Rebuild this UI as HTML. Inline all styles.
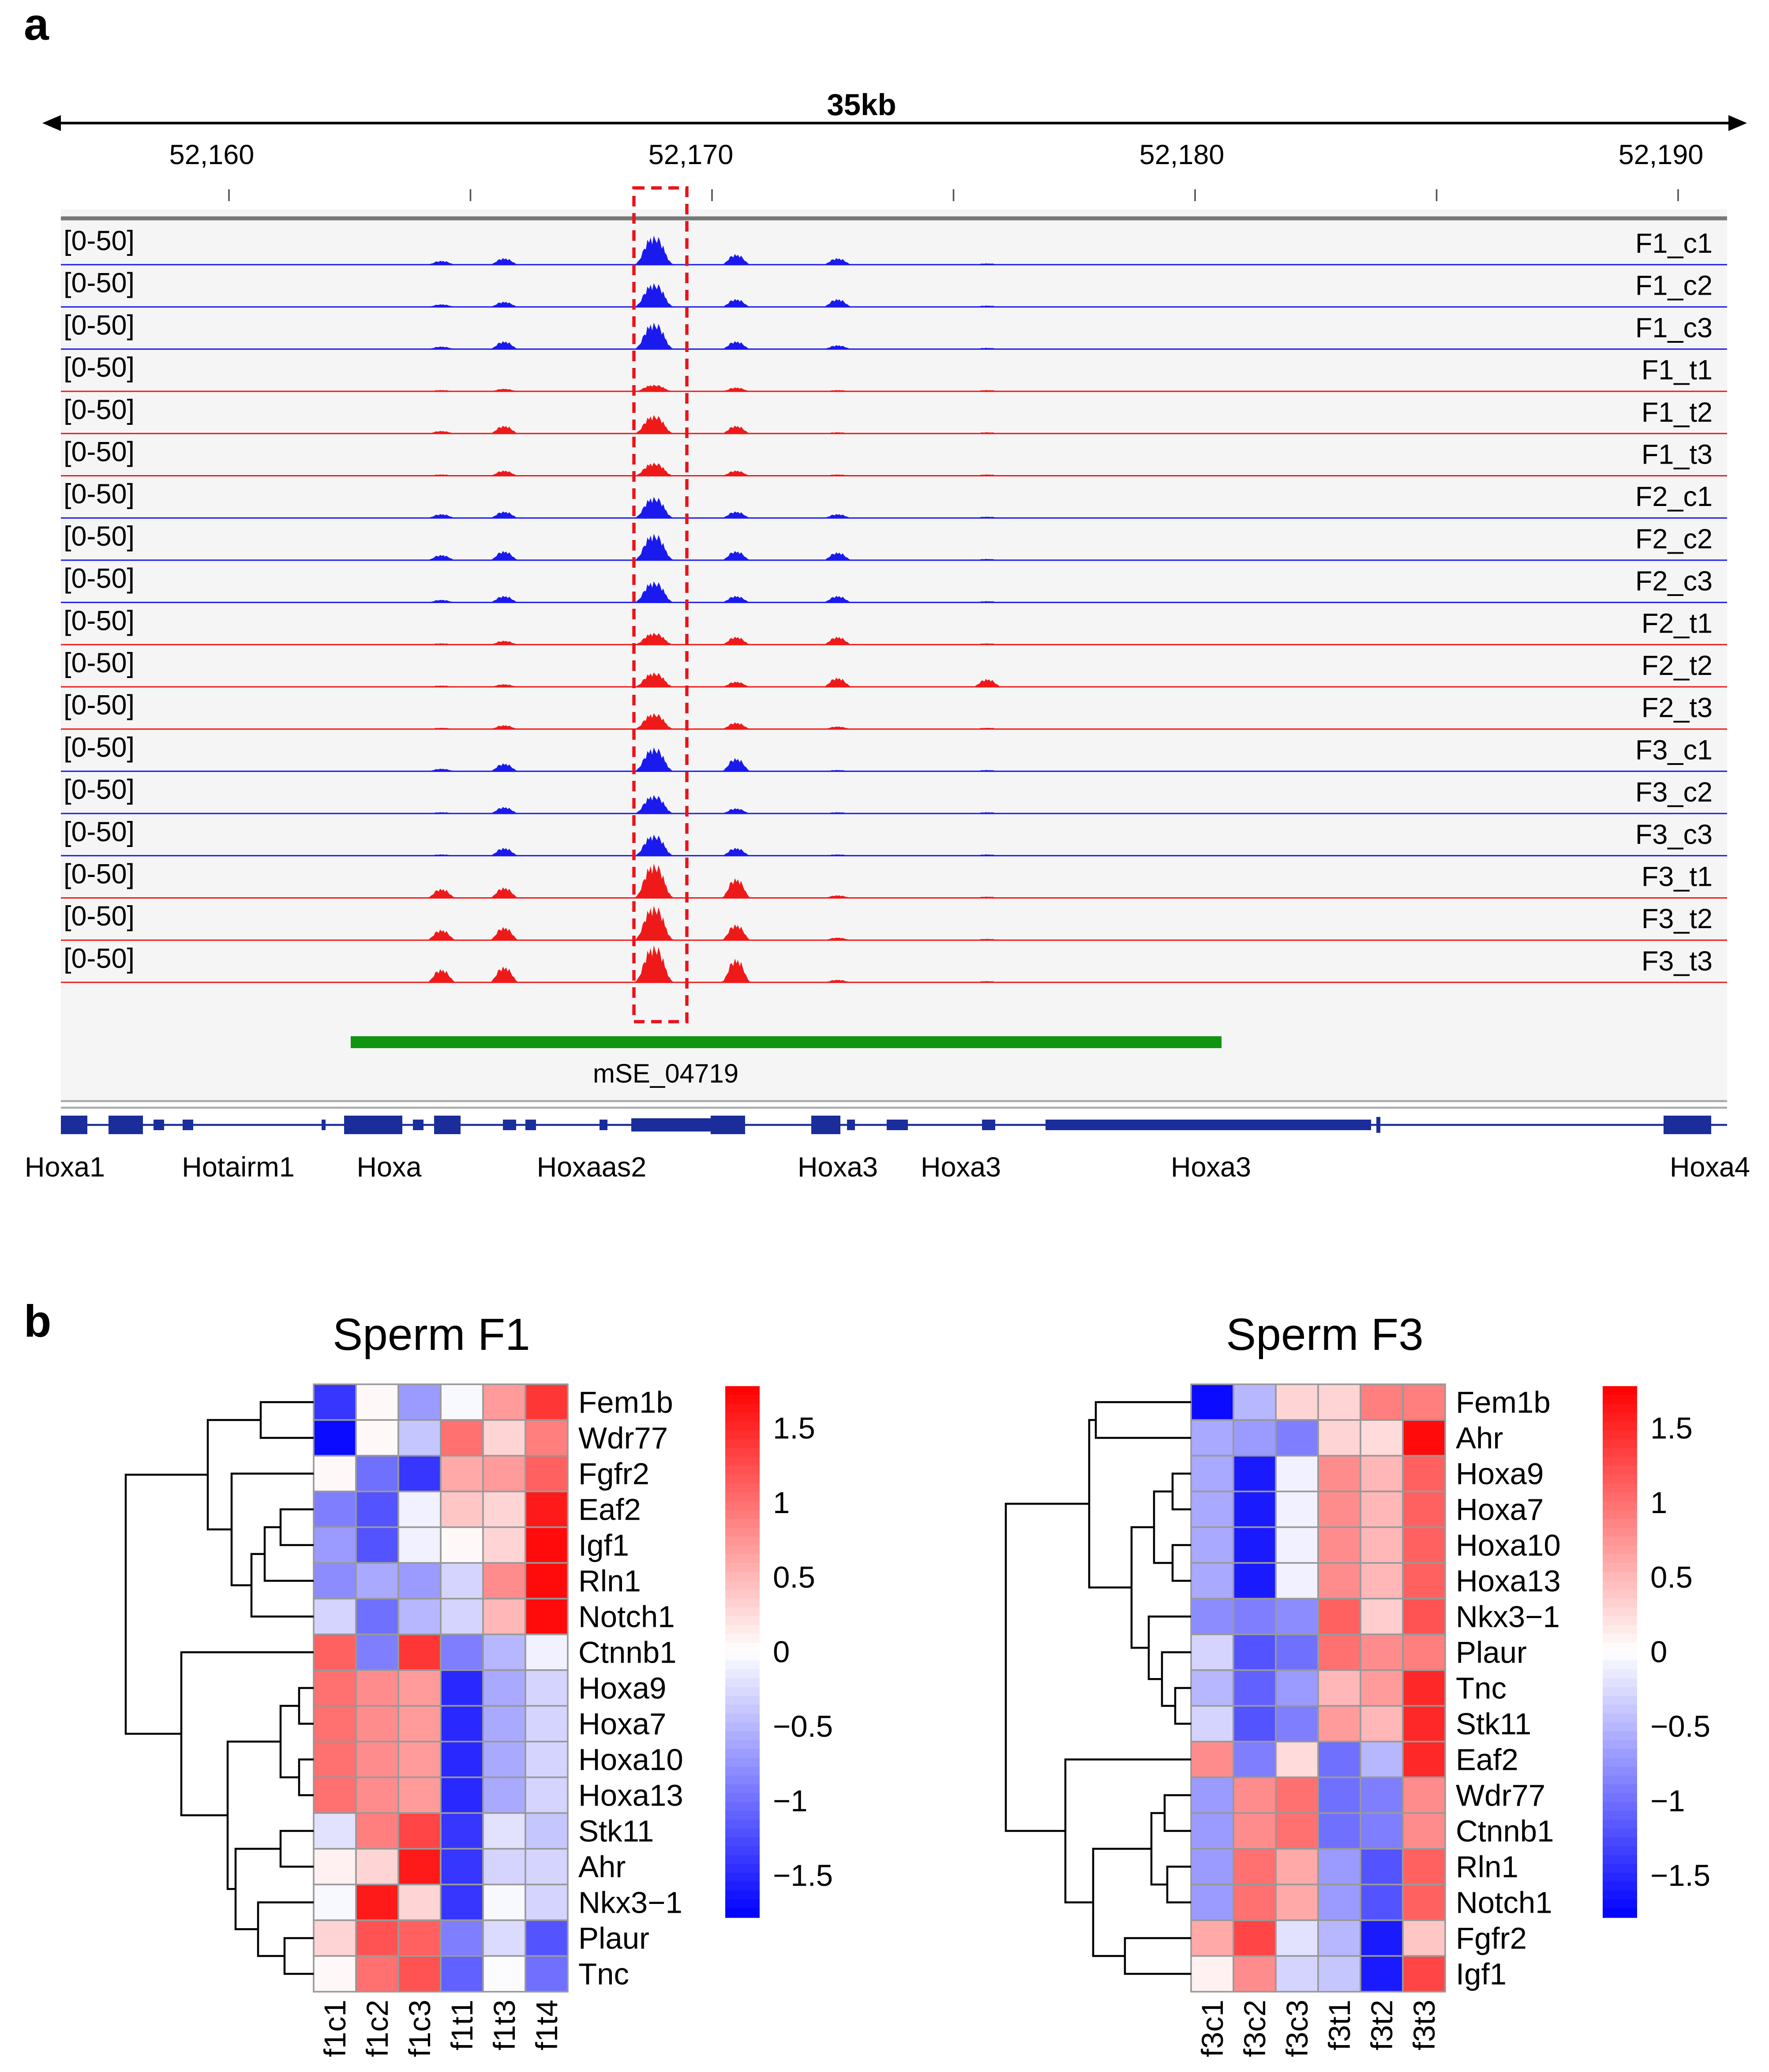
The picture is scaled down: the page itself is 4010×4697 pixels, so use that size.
<!DOCTYPE html>
<html><head><meta charset="utf-8"><style>
html,body{margin:0;padding:0;background:#fff;}
svg{display:block;font-family:"Liberation Sans",Arial,sans-serif;}
</style></head><body>
<svg id="fig" width="4010" height="4697" viewBox="0 0 1336.67 1565.67" xmlns="http://www.w3.org/2000/svg">
<rect width="1336.67" height="1565.67" fill="#fff"/>
<text x="18" y="30" font-size="34" font-weight="bold">a</text>
<text x="18" y="1010" font-size="34" font-weight="bold">b</text>
<g>
<line x1="38" y1="93" x2="1314" y2="93" stroke="#000" stroke-width="2"/>
<polygon points="32,93 46,87 46,99" fill="#000"/>
<polygon points="1320,93 1306,87 1306,99" fill="#000"/>
<text x="651" y="87" font-size="23" font-weight="bold" text-anchor="middle">35kb</text>
</g>
<rect x="46" y="158" width="1259" height="675" fill="#f5f5f5"/>
<line x1="46" y1="165" x2="1305" y2="165" stroke="#777" stroke-width="3"/>
<g id="tracks"></g>
<rect x="479" y="142" width="40" height="630" fill="none" stroke="#e8141c" stroke-width="2.5" stroke-dasharray="8,5"/>
<rect x="265" y="783" width="658" height="9" fill="#119411"/>
<text x="503" y="818" font-size="20" text-anchor="middle">mSE_04719</text>
<line x1="46" y1="832" x2="1305" y2="832" stroke="#aaa" stroke-width="1.5"/>
<line x1="46" y1="837" x2="1305" y2="837" stroke="#aaa" stroke-width="1.5"/>
<g id="genes"></g>
<g id="hm"></g>
</svg>
<script>
const NS='http://www.w3.org/2000/svg';
const svg=document.getElementById('fig');
function mk(tag,attrs,parent){const e=document.createElementNS(NS,tag);for(const k in attrs)e.setAttribute(k,attrs[k]);(parent||svg).appendChild(e);return e;}
function txt(s,attrs,parent){const e=mk('text',attrs,parent);e.textContent=s;return e;}

const tickKb=[52160,52170,52180,52190];
const trackNames=['F1_c1','F1_c2','F1_c3','F1_t1','F1_t2','F1_t3','F2_c1','F2_c2','F2_c3','F2_t1','F2_t2','F2_t3','F3_c1','F3_c2','F3_c3','F3_t1','F3_t2','F3_t3'];
const peakKb=[52164.4,52165.7,52168.8,52170.5,52172.6,52175.7];
const peakHeights=[
[3,5,22,8,5,1],[2,4,18,6,6,1],[2,6,20,6,3,1],[1,2,5,3,1,1],[2,6,14,6,1,1],[1,4,10,4,1,1],
[3,5,16,5,3,1],[4,7,20,7,6,1],[2,5,16,5,5,1],[1,3,9,6,6,1],[1,2,11,4,7,6],[1,3,12,5,2,1],
[2,6,18,10,1,1],[1,5,14,4,1,1],[1,6,16,6,1,1],[7,8,26,15,2,1],[8,10,26,12,2,1],[10,12,28,18,2,1]];
const kx=kb=>173+(kb-52160)*36.5;
const tickLabelX=[160,522,893,1255];
const trk=document.getElementById('tracks');
tickKb.forEach((t,i)=>{
  const e=txt(t.toLocaleString('en-US'),{x:tickLabelX[i],y:124,'font-size':21,'text-anchor':'middle'},trk);
  
  
});
for(let k=52160;k<=52190;k+=5){
  const l=mk('line',{x1:kx(k),x2:kx(k),y1:143,y2:152,stroke:'#555','stroke-width':1.2},trk);
  
  
}
const jag=[1,0.8,0.95,0.7,1,0.85,0.75,1,0.9,0.7];
trackNames.forEach((nm,i)=>{
  const base=200+i*31.9;
  const col=nm.indexOf('_c')>0?'#1a1aee':'#ee1a1a';
  const g=mk('g',{},trk);
  
  
  const bl=mk('line',{x1:46,x2:1305,y1:base,y2:base,stroke:col,'stroke-width':1},g);
  
  
  peakHeights[i].forEach((h,j)=>{
    const cx=kx(peakKb[j]);const w=j==2?17:13;let pts=[];let q=0;
    for(let s=-w;s<=w;s+=1.2){const f=Math.exp(-Math.pow(Math.abs(s)/(w*0.55),3));pts.push((cx+s).toFixed(1)+','+(base-h*f*jag[(q++)%jag.length]).toFixed(1));}
    pts.push((cx+w)+','+base);pts.unshift((cx-w)+','+base);
    const p=mk('polygon',{points:pts.join(' '),fill:col},g);
    
    
  });
  const a=txt('[0-50]',{x:48,y:base-11,'font-size':21},g);
  
  
  const b=txt(nm,{x:1294,y:base-9,'font-size':21,'text-anchor':'end'},g);
  
  
});
const gg=document.getElementById('genes');
mk('line',{x1:46,x2:1305,y1:850,y2:850,stroke:'#1a2d9a','stroke-width':1.5},gg);
const exons=[[46,20,14],[82,26,14],[116,8,8],[138,8,8],[243,3,8],[260,44,14],[312,8,8],[328,20,14],[380,10,8],[397,8,8],[453,6,8],[477,60,10],[537,26,14],[613,22,14],[640,6,8],[670,16,8],[742,10,8],[790,246,8],[1040,3,12],[1257,36,14]];
exons.forEach(e=>{const r=mk('rect',{x:e[0],y:850-e[2]/2,width:e[1],height:e[2],fill:'#1a2d9a'},gg);});
const geneLabels=[['Hoxa1',49],['Hotairm1',180],['Hoxa',294],['Hoxaas2',447],['Hoxa3',633],['Hoxa3',726],['Hoxa3',915],['Hoxa4',1292]];
geneLabels.forEach(g=>{const e=txt(g[0],{x:g[1],y:889,'font-size':21,'text-anchor':'middle'},gg);});

const colsF1=['f1c1','f1c2','f1c3','f1t1','f1t3','f1t4'];
const rowsF1=['Fem1b','Wdr77','Fgfr2','Eaf2','Igf1','Rln1','Notch1','Ctnnb1','Hoxa9','Hoxa7','Hoxa10','Hoxa13','Stk11','Ahr','Nkx3\u22121','Plaur','Tnc'];
const valsF1=[
[-1.4,0.05,-0.7,-0.05,0.7,1.4],[-1.7,0.05,-0.4,1.0,0.3,0.9],[0.05,-1.0,-1.4,0.6,0.7,1.1],
[-0.9,-1.2,-0.1,0.4,0.3,1.6],[-0.7,-1.2,-0.1,0.05,0.3,1.7],[-0.8,-0.6,-0.7,-0.3,0.8,1.7],
[-0.3,-1.0,-0.5,-0.3,0.5,1.7],[1.1,-0.9,1.4,-0.9,-0.5,-0.1],[1.0,0.8,0.7,-1.5,-0.6,-0.3],
[1.0,0.8,0.7,-1.5,-0.6,-0.3],[1.0,0.8,0.7,-1.5,-0.6,-0.3],[1.0,0.8,0.7,-1.5,-0.6,-0.3],
[-0.2,0.9,1.3,-1.4,-0.2,-0.4],[0.1,0.3,1.6,-1.4,-0.3,-0.3],[-0.05,1.6,0.3,-1.4,-0.05,-0.3],
[0.3,1.2,1.1,-0.9,-0.25,-1.2],[0.05,1.0,1.2,-1.1,-0.02,-1.0]];
const mergesF1=[[0,1,197],[3,4,212],[18,5,200],[19,6,190],[2,20,175],[17,21,157],[8,9,226],[10,11,226],[23,24,212],[12,13,212],[15,16,215],[14,27,195],[26,28,178],[25,29,172],[7,30,137],[22,31,95]];
const colsF3=['f3c1','f3c2','f3c3','f3t1','f3t2','f3t3'];
const rowsF3=['Fem1b','Ahr','Hoxa9','Hoxa7','Hoxa10','Hoxa13','Nkx3\u22121','Plaur','Tnc','Stk11','Eaf2','Wdr77','Ctnnb1','Rln1','Notch1','Fgfr2','Igf1'];
const valsF3=[
[-1.7,-0.5,0.3,0.3,0.9,0.9],[-0.6,-0.7,-0.9,0.3,0.25,1.7],[-0.6,-1.6,-0.1,0.8,0.5,1.1],
[-0.6,-1.6,-0.1,0.8,0.5,1.1],[-0.6,-1.6,-0.1,0.8,0.5,1.1],[-0.6,-1.6,-0.1,0.8,0.5,1.1],
[-0.8,-0.9,-0.8,1.1,0.35,1.2],[-0.3,-1.2,-1.0,1.0,0.8,0.9],[-0.5,-1.1,-0.7,0.5,0.7,1.5],
[-0.3,-1.2,-0.9,0.7,0.5,1.5],[0.8,-0.9,0.25,-1.0,-0.5,1.5],[-0.7,0.8,1.0,-1.0,-0.9,0.8],
[-0.7,0.8,1.0,-1.0,-0.9,0.8],[-0.7,1.0,0.6,-0.7,-1.2,1.1],[-0.7,1.0,0.6,-0.7,-1.2,1.1],
[0.6,1.3,-0.2,-0.5,-1.6,0.4],[0.1,0.8,-0.3,-0.4,-1.6,1.3]];
const mergesF3=[[0,1,828],[2,3,886],[4,5,886],[18,19,872],[8,9,888],[7,21,878],[6,22,868],[20,23,855],[17,24,823],[11,12,880],[13,14,882],[26,27,870],[15,16,850],[28,29,826],[10,30,805],[25,31,760]];
const cbTicks=[1.5,1,0.5,0,-0.5,-1,-1.5];
const cbTickLabels=['1.5','1','0.5','0','\u22120.5','\u22121','\u22121.5'];
const VMAX=1.78;
function color(v){const t=Math.max(-1,Math.min(1,v/VMAX));let r,g,b;if(t>=0){r=255;g=b=Math.round(255*(1-t));}else{b=255;r=g=Math.round(255*(1+t));}return `rgb(${r},${g},${b})`;}
const hmTop=1046,cellH=27,cellW=32,hmBottom=hmTop+17*cellH;
function drawHM(title,titleX,left,rows,cols,vals,merges,cbX,id){
  const g=mk('g',{},document.getElementById('hm'));
  
  
  const t=txt(title,{x:titleX,y:1020,'font-size':34,'text-anchor':'middle'},g);
  
  
  const ry=i=>hmTop+(i+0.5)*cellH;
  vals.forEach((row,i)=>row.forEach((v,j)=>{
    const c=mk('rect',{x:left+j*cellW,y:hmTop+i*cellH,width:cellW,height:cellH,fill:color(v),stroke:'#999','stroke-width':1.2},g);
    
    
  }));
  rows.forEach((r,i)=>{const e=txt(r,{x:left+6*cellW+8,y:ry(i)+8,'font-size':23},g);});
  cols.forEach((c,j)=>{const cx=left+(j+0.5)*cellW;const e=txt(c,{x:0,y:0,'font-size':23,'text-anchor':'end',transform:`translate(${cx+8},${hmBottom+6}) rotate(-90)`},g);});
  const n=rows.length;const ny=[],nx=[];
  for(let i=0;i<n;i++){ny.push(ry(i));nx.push(left);}
  let d='';
  merges.forEach(m=>{const [a,b,x]=m;d+=`M${nx[a]},${ny[a]}H${x}V${ny[b]}H${nx[b]}`;ny.push((ny[a]+ny[b])/2);nx.push(x);});
  const p=mk('path',{d:d,fill:'none',stroke:'#000','stroke-width':1.5},g);
  
  
  const vy=v=>1248-v*112.7;
  const steps=60;
  for(let s=0;s<steps;s++){const v0=VMAX-s*(2*VMAX/steps);const r=mk('rect',{x:cbX,y:vy(v0),width:26,height:(2*VMAX/steps)*112.7+0.6,fill:color(v0-VMAX/steps)},g);}
  cbTicks.forEach((v,k)=>{const e=txt(cbTickLabels[k],{x:cbX+36,y:vy(v)+8,'font-size':23},g);});
}
drawHM('Sperm F1',326,237,rowsF1,colsF1,valsF1,mergesF1,548,'f1');
drawHM('Sperm F3',1001,900,rowsF3,colsF3,valsF3,mergesF3,1211,'f3');
</script>
</body></html>
